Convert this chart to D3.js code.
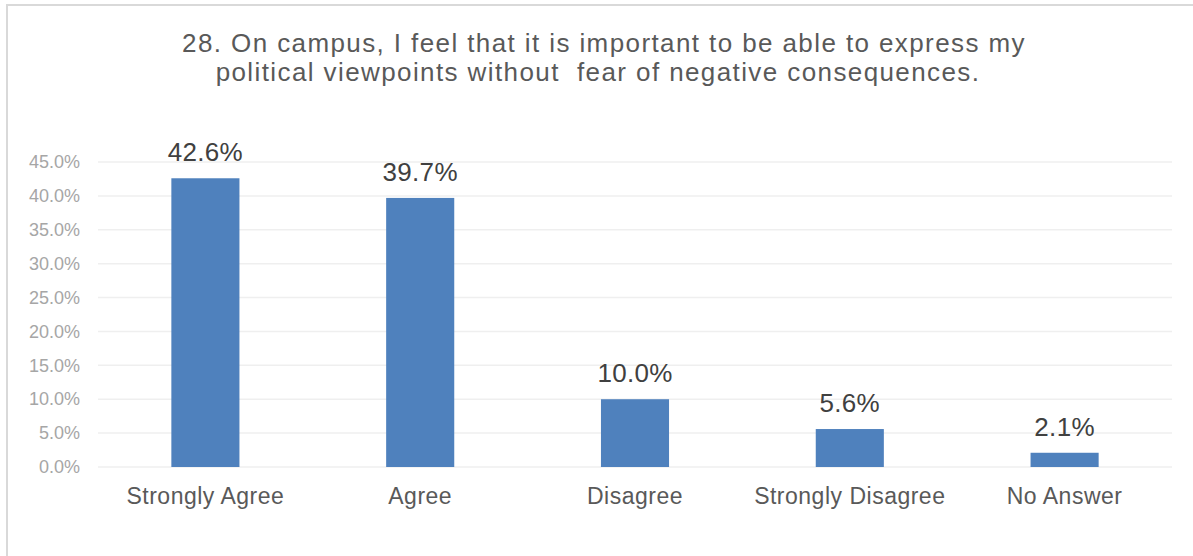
<!DOCTYPE html>
<html>
<head>
<meta charset="utf-8">
<script src="https://cdn.jsdelivr.net/npm/d3@7"></script>
<style>
  html, body { margin: 0; padding: 0; background: #ffffff; }
  svg { display: block; }
  text { font-family: "Liberation Sans", Arial, sans-serif; }
</style>
</head>
<body>
<svg id="chart" width="1193" height="556"></svg>
<script>
const categories = ["Strongly Agree", "Agree", "Disagree", "Strongly Disagree", "No Answer"];
const values = [42.6, 39.7, 10.0, 5.6, 2.1];
const tickValues = [0, 5, 10, 15, 20, 25, 30, 35, 40, 45];
const titleLines = [
  "28. On campus, I feel that it is important to be able to express my",
  "political viewpoints without  fear of negative consequences."
];

const svg = d3.select("#chart");
const W = 1193, H = 556;
const plot = { left: 98, right: 1172, top: 162, bottom: 467 };

// chart area border
svg.append("rect")
  .attr("x", 7).attr("y", 5)
  .attr("width", W + 20).attr("height", H + 20)
  .attr("fill", "#ffffff")
  .attr("stroke", "#d9d9d9").attr("stroke-width", 2);

const x = d3.scaleBand()
  .domain(categories)
  .range([plot.left, plot.right])
  .paddingInner(0.683)
  .paddingOuter(0.683 / 2);

const y = d3.scaleLinear()
  .domain([0, 45])
  .range([plot.bottom, plot.top]);

// gridlines
svg.append("g")
  .selectAll("line")
  .data(tickValues)
  .join("line")
  .attr("x1", plot.left).attr("x2", plot.right)
  .attr("y1", d => y(d)).attr("y2", d => y(d))
  .attr("stroke", "#efefef").attr("stroke-width", 1.5);

// y axis via d3 axis
const yAxis = d3.axisLeft(y)
  .tickValues(tickValues)
  .tickFormat(d => d3.format(".1f")(d) + "%")
  .tickSize(0)
  .tickPadding(0);

const gy = svg.append("g")
  .attr("transform", `translate(${80},0)`)
  .call(yAxis);
gy.select(".domain").remove();
gy.selectAll("text")
  .attr("fill", "#a6a6a6")
  .style("font-size", "18px")
  .style("font-family", "'Liberation Sans', Arial, sans-serif");

// x axis labels via d3 axis
const xAxis = d3.axisBottom(x).tickSize(0).tickPadding(0);
const gx = svg.append("g")
  .attr("transform", `translate(0,${504})`)
  .call(xAxis);
gx.select(".domain").remove();
gx.selectAll("text")
  .attr("dy", 0)
  .attr("y", 0)
  .attr("fill", "#595959")
  .style("font-size", "23px")
  .style("letter-spacing", "0.5px")
  .style("font-family", "'Liberation Sans', Arial, sans-serif");

// bars
svg.append("g")
  .selectAll("rect")
  .data(values)
  .join("rect")
  .attr("x", (d, i) => x(categories[i]))
  .attr("width", x.bandwidth())
  .attr("y", d => y(d))
  .attr("height", d => y(0) - y(d))
  .attr("fill", "#4f81bd");

// data labels
svg.append("g")
  .selectAll("text")
  .data(values)
  .join("text")
  .attr("x", (d, i) => x(categories[i]) + x.bandwidth() / 2)
  .attr("y", d => y(d) - 17)
  .attr("text-anchor", "middle")
  .attr("fill", "#404040")
  .style("font-size", "26px")
  .style("letter-spacing", "0.3px")
  .text(d => d3.format(".1f")(d) + "%");

// title
svg.append("g")
  .selectAll("text")
  .data(titleLines)
  .join("text")
  .attr("x", (d, i) => i === 0 ? 604 : 598)
  .attr("y", (d, i) => 52 + i * 29)
  .attr("text-anchor", "middle")
  .attr("fill", "#595959")
  .attr("xml:space", "preserve")
  .style("white-space", "pre")
  .style("font-size", "26px")
  .style("letter-spacing", "1.4px")
  .text(d => d);
</script>
</body>
</html>
